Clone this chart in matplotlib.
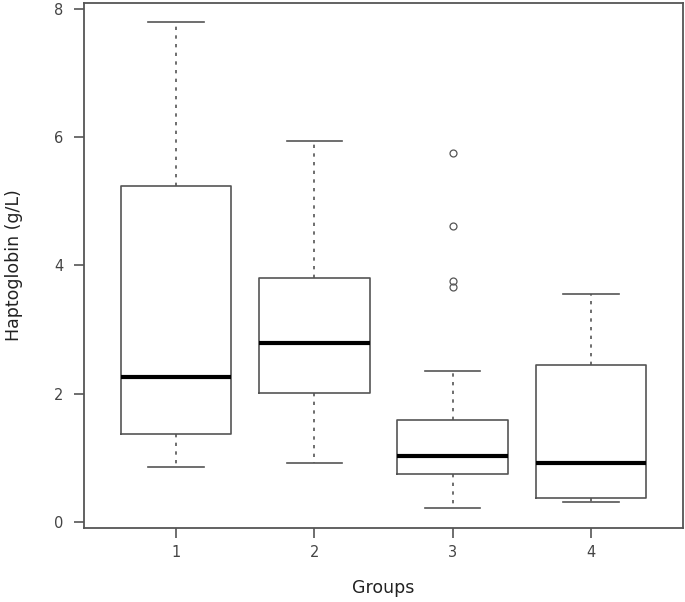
import matplotlib
matplotlib.use("Agg")
import matplotlib.pyplot as plt

# values
groups = ["1", "2", "3", "4"]
whislo = [0.86, 0.92, 0.22, 0.31]
q1 = [1.37, 2.01, 0.75, 0.37]
med = [2.26, 2.79, 1.03, 0.92]
q3 = [5.24, 3.80, 1.59, 2.45]
whishi = [7.80, 5.94, 2.35, 3.56]
fliers = [[], [], [5.75, 4.62, 3.76, 3.66], []]
yticks = [0, 2, 4, 6, 8]

stats = []
for i, g in enumerate(groups):
    stats.append(dict(label=g, whislo=whislo[i], q1=q1[i], med=med[i],
                      q3=q3[i], whishi=whishi[i], fliers=fliers[i]))

line = "#555555"
fig = plt.figure(figsize=(6.85, 6.02), dpi=100)
ax = fig.add_axes([0.1226, 0.123, 0.8744, 0.872])

ax.bxp(stats, positions=[1, 2, 3, 4], widths=0.8,
       boxprops=dict(color=line, linewidth=1.2),
       medianprops=dict(color="black", linewidth=3),
       whiskerprops=dict(color=line, linewidth=1.2, linestyle=(0, (2, 3.2))),
       capprops=dict(color=line, linewidth=1.2),
       capwidths=0.4,
       flierprops=dict(marker="o", markerfacecolor="none",
                       markeredgecolor=line, markersize=5, markeredgewidth=0.9))

ax.set_xlim(0.335, 4.665)
ax.set_ylim(-0.09, 8.09)
ax.set_yticks(yticks)
ax.set_xticks([1, 2, 3, 4])
ax.set_xticklabels(groups)

for s in ax.spines.values():
    s.set_color(line)
    s.set_linewidth(1.3)
ax.tick_params(colors=line, length=7, width=1.2, labelsize=10.5,
               labelcolor="#444444")
ax.tick_params(axis="y", pad=8)
ax.tick_params(axis="x", pad=5)

ax.set_xlabel("Groups", fontsize=12.5, color="#222222", labelpad=14)
ax.set_ylabel("Haptoglobin (g/L)", fontsize=12.5, color="#222222", labelpad=22)

fig.savefig("out.png", dpi=100)
